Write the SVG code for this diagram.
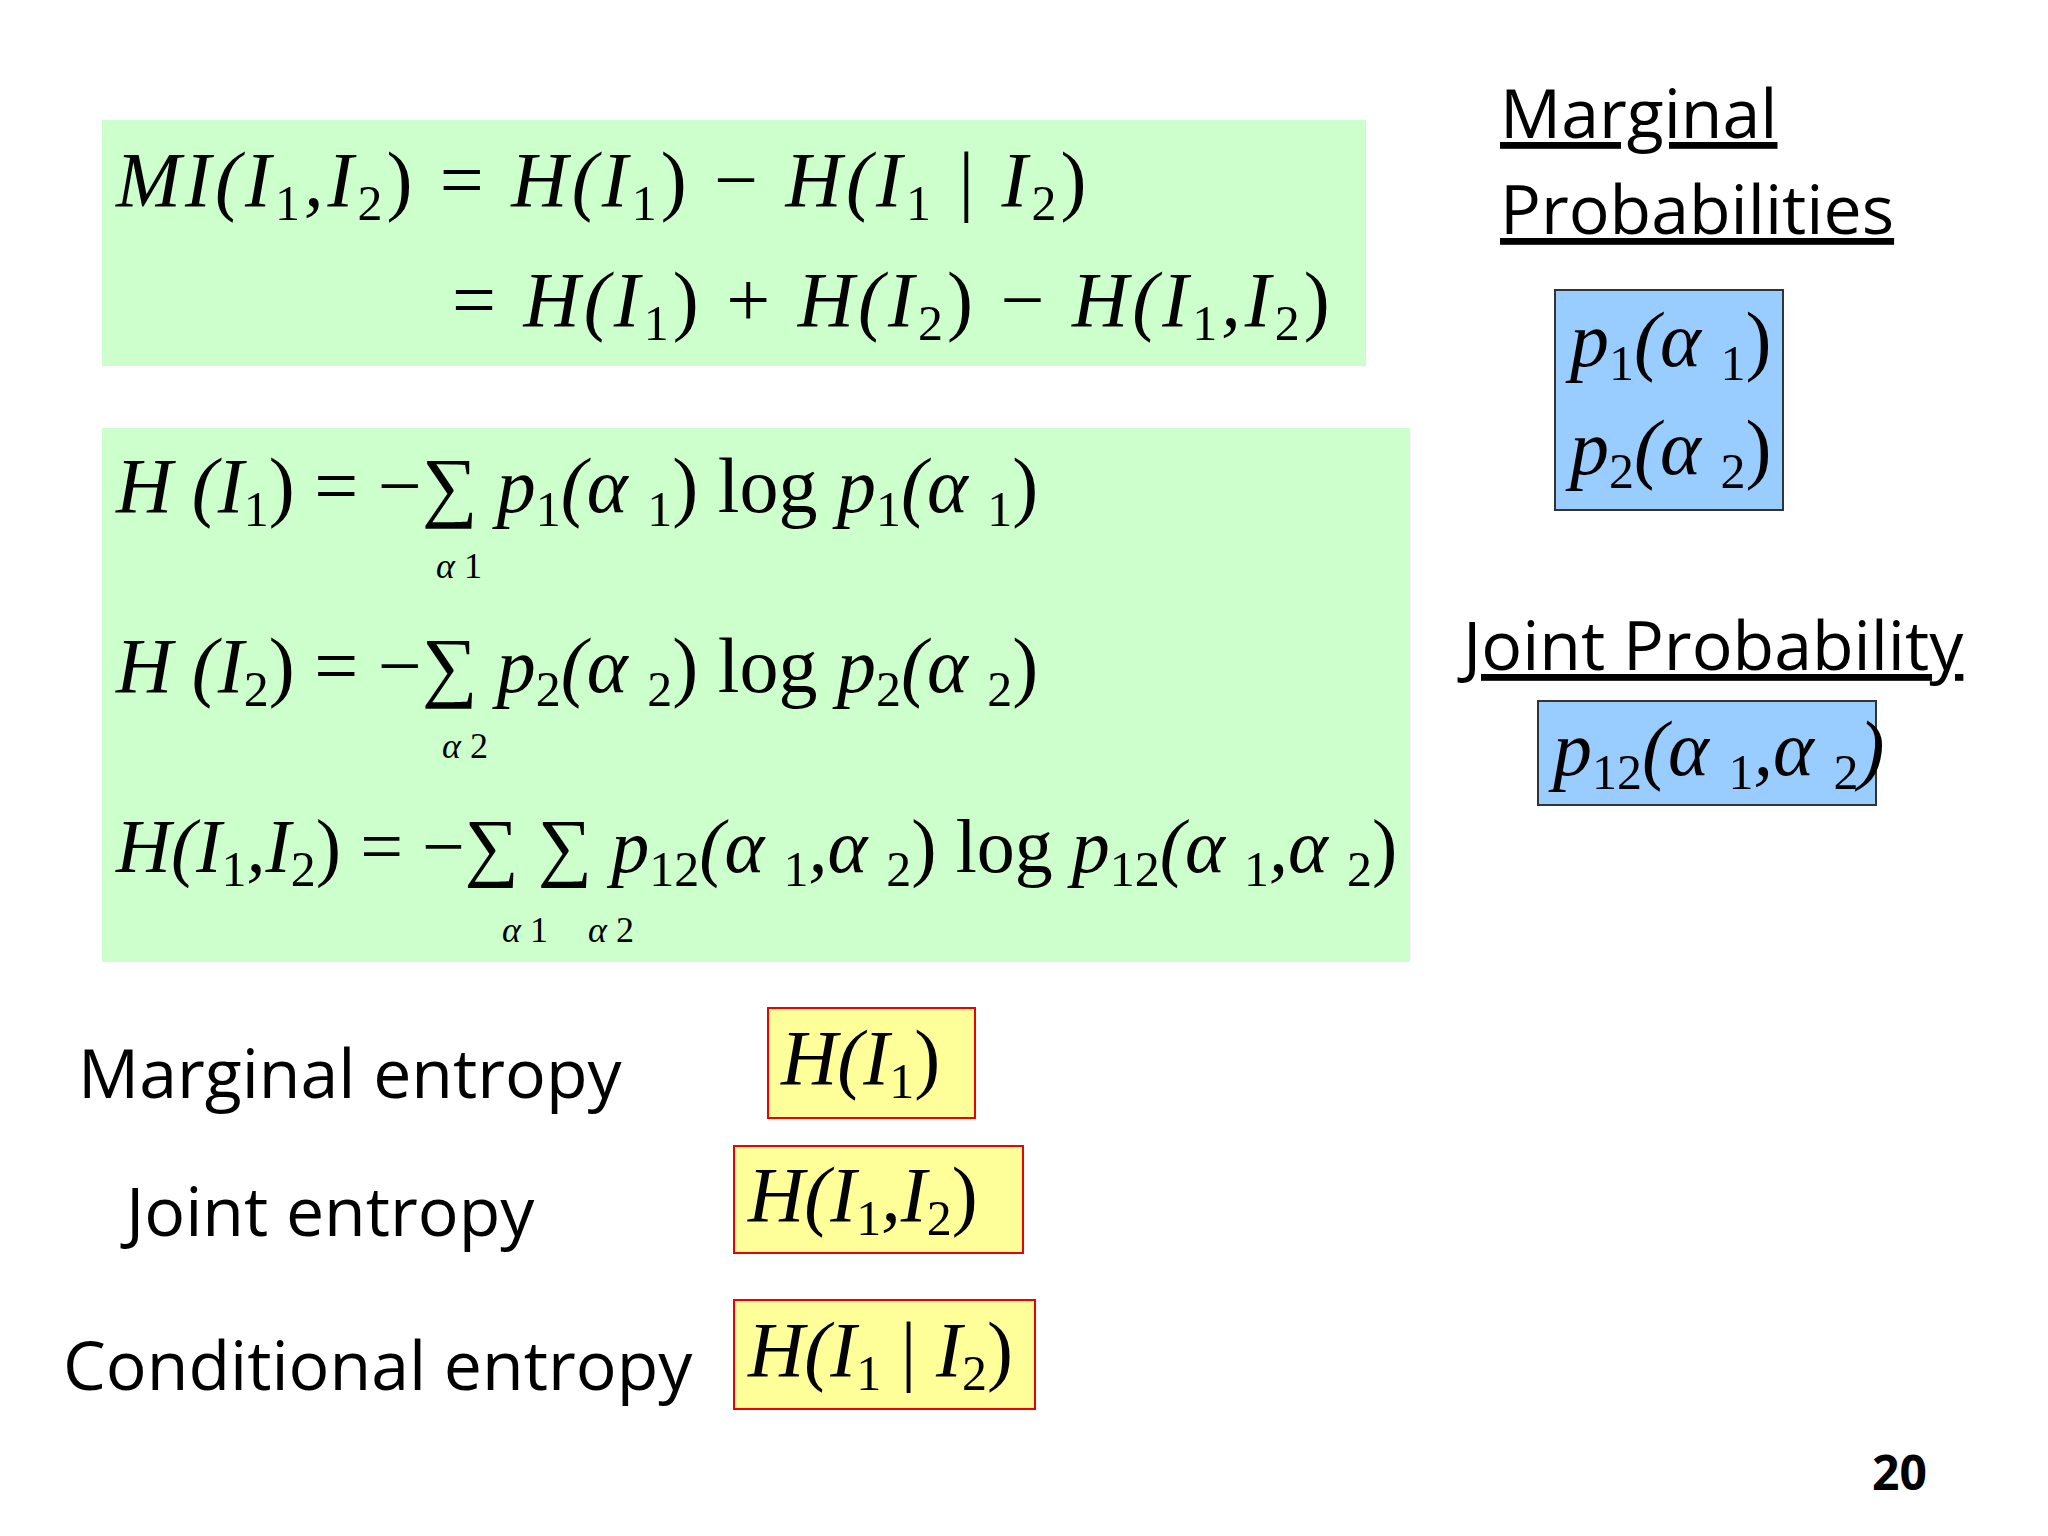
<svg xmlns="http://www.w3.org/2000/svg" width="2048" height="1536" viewBox="0 0 2048 1536">
<style>
.m{font-family:"Liberation Serif",serif;font-style:italic;font-size:78px;fill:#000}
.w{letter-spacing:4px}
.u{font-style:normal}
.s{font-size:50px;font-style:normal}
.lab{font-family:"Open Sans","Liberation Sans",sans-serif;font-size:68px;fill:#000}
.g{fill:#ccffcc}
.b{fill:#99ccff;stroke:#333;stroke-width:2}
.y{fill:#ffff99;stroke:#e00;stroke-width:2}
</style>
<rect width="2048" height="1536" fill="#fff"/>
<g id="mi">
<rect class="g" x="102" y="120" width="1264" height="246"/>
<text class="m w" x="116" y="206">MI(I<tspan class="s" dy="14">1</tspan><tspan dy="-14">,I</tspan><tspan class="s" dy="14">2</tspan><tspan class="u" dy="-14">) =  </tspan>H(I<tspan class="s" dy="14">1</tspan><tspan class="u" dy="-14">) −  </tspan>H(I<tspan class="s" dy="14">1</tspan><tspan class="u" dy="-14"> | </tspan>I<tspan class="s" dy="14">2</tspan><tspan class="u" dy="-14">)</tspan></text>
<text class="m w" x="452" y="326"><tspan class="u">=  </tspan>H(I<tspan class="s" dy="14">1</tspan><tspan class="u" dy="-14">) + </tspan>H(I<tspan class="s" dy="14">2</tspan><tspan class="u" dy="-14">) − </tspan>H(I<tspan class="s" dy="14">1</tspan><tspan dy="-14">,I</tspan><tspan class="s" dy="14">2</tspan><tspan class="u" dy="-14">)</tspan></text>
</g>
<g id="entropies">
<rect class="g" x="102" y="428" width="1308" height="534"/>
<text class="m" x="116" y="512">H  (I<tspan class="s" dy="14">1</tspan><tspan class="u" dy="-14">) = −∑  </tspan>p<tspan class="s" dy="14">1</tspan><tspan dy="-14">(α </tspan><tspan class="s" dy="14">1</tspan><tspan class="u" dy="-14">) log </tspan>p<tspan class="s" dy="14">1</tspan><tspan dy="-14">(α </tspan><tspan class="s" dy="14">1</tspan><tspan class="u" dy="-14">)</tspan></text>
<text class="m" x="436" y="578" style="font-size:36px">α <tspan class="u">1</tspan></text>
<text class="m" x="116" y="692">H  (I<tspan class="s" dy="14">2</tspan><tspan class="u" dy="-14">) = −∑  </tspan>p<tspan class="s" dy="14">2</tspan><tspan dy="-14">(α </tspan><tspan class="s" dy="14">2</tspan><tspan class="u" dy="-14">) log </tspan>p<tspan class="s" dy="14">2</tspan><tspan dy="-14">(α </tspan><tspan class="s" dy="14">2</tspan><tspan class="u" dy="-14">)</tspan></text>
<text class="m" x="442" y="758" style="font-size:36px">α <tspan class="u">2</tspan></text>
<text class="m" x="116" y="872" style="font-size:76px">H(I<tspan class="s" dy="14">1</tspan><tspan dy="-14">,I</tspan><tspan class="s" dy="14">2</tspan><tspan class="u" dy="-14">) = −∑  ∑  </tspan>p<tspan class="s" dy="14">12</tspan><tspan dy="-14">(α </tspan><tspan class="s" dy="14">1</tspan><tspan dy="-14">,α </tspan><tspan class="s" dy="14">2</tspan><tspan class="u" dy="-14">) log </tspan>p<tspan class="s" dy="14">12</tspan><tspan dy="-14">(α </tspan><tspan class="s" dy="14">1</tspan><tspan dy="-14">,α </tspan><tspan class="s" dy="14">2</tspan><tspan class="u" dy="-14">)</tspan></text>
<text class="m" x="502" y="942" style="font-size:36px">α <tspan class="u">1</tspan></text>
<text class="m" x="588" y="942" style="font-size:36px">α <tspan class="u">2</tspan></text>
</g>
<g id="marginal">
<text class="lab" x="1500" y="138" text-decoration="underline">Marginal </text>
<text class="lab" x="1500" y="234" text-decoration="underline">Probabilities</text>
<rect class="b" x="1555" y="290" width="228" height="220"/>
<text class="m" x="1570" y="366">p<tspan class="s" dy="14">1</tspan><tspan dy="-14">(α </tspan><tspan class="s" dy="14">1</tspan><tspan class="u" dy="-14">)</tspan></text>
<text class="m" x="1570" y="474">p<tspan class="s" dy="14">2</tspan><tspan dy="-14">(α </tspan><tspan class="s" dy="14">2</tspan><tspan class="u" dy="-14">)</tspan></text>
</g>
<g id="joint">
<text class="lab" x="1463" y="670" text-decoration="underline">Joint Probability</text>
<rect class="b" x="1538" y="701" width="338" height="104"/>
<text class="m" x="1553" y="775">p<tspan class="s" dy="14">12</tspan><tspan dy="-14">(α </tspan><tspan class="s" dy="14">1</tspan><tspan dy="-14">,α </tspan><tspan class="s" dy="14">2</tspan><tspan dy="-14">)</tspan></text>
</g>
<g id="marg-ent">
<text class="lab" x="78" y="1098">Marginal entropy</text>
<rect class="y" x="768" y="1008" width="207" height="110"/>
<text class="m" x="781" y="1084">H(I<tspan class="s" dy="14">1</tspan><tspan class="u" dy="-14">)</tspan></text>
</g>
<g id="joint-ent">
<text class="lab" x="126" y="1236">Joint entropy</text>
<rect class="y" x="734" y="1146" width="289" height="107"/>
<text class="m" x="748" y="1221">H(I<tspan class="s" dy="14">1</tspan><tspan dy="-14">,I</tspan><tspan class="s" dy="14">2</tspan><tspan class="u" dy="-14">)</tspan></text>
</g>
<g id="cond-ent">
<text class="lab" x="63" y="1390">Conditional entropy</text>
<rect class="y" x="734" y="1300" width="301" height="109"/>
<text class="m" x="748" y="1376">H(I<tspan class="s" dy="14">1</tspan><tspan class="u" dy="-14"> | </tspan>I<tspan class="s" dy="14">2</tspan><tspan class="u" dy="-14">)</tspan></text>
</g>
<text x="1872" y="1490" font-family="Open Sans,Liberation Sans,sans-serif" font-weight="bold" font-size="48">20</text>
<g id="connectors"/>
</svg>
